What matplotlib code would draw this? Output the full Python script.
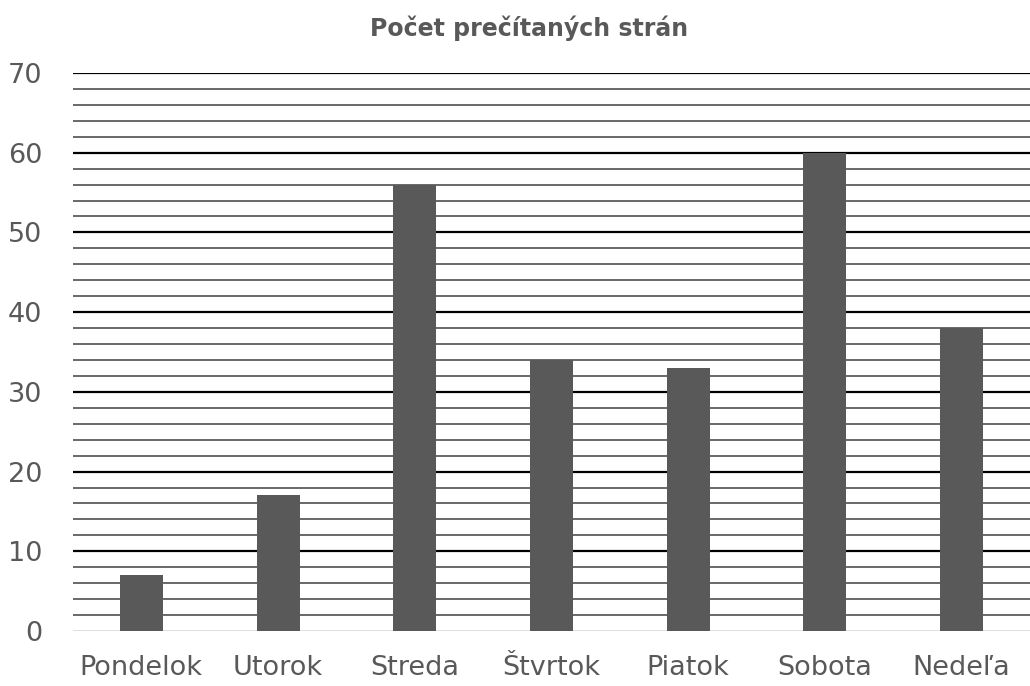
import matplotlib
matplotlib.use('Agg')
import matplotlib.pyplot as plt
import numpy as np

days = ['Pondelok', 'Utorok', 'Streda', 'Štvrtok', 'Piatok', 'Sobota', 'Nedeľa']
pages = [7, 17, 56, 34, 33, 60, 38]
y_ticks = [0, 10, 20, 30, 40, 50, 60, 70]

text_color = '#595959'
bar_color = '#595959'

fig = plt.figure(figsize=(10.30, 6.86), dpi=100)
ax = fig.add_axes([73 / 1030, 1 - 631 / 686, 957 / 1030, 558 / 686])

x = np.arange(len(days))
ax.set_xlim(-0.5, len(days) - 0.5)
ax.set_ylim(0, 70)

# gridlines: minor every 2, major every 10
for v in range(2, 71, 2):
    if v % 10 == 0:
        ax.axhline(v, color='black', lw=1.6, zorder=1)
    else:
        ax.axhline(v, color='#404040', lw=1.1, zorder=1)
ax.axhline(0, color='#d9d9d9', lw=1.2, zorder=1)

ax.bar(x, pages, width=0.315, color=bar_color, zorder=2)

ax.set_xticks(x)
ax.set_xticklabels(days)
ax.set_yticks(y_ticks)
ax.tick_params(axis='both', length=0, colors=text_color)
ax.tick_params(axis='x', pad=17, labelsize=19.5)
ax.tick_params(axis='y', pad=22, labelsize=19.5)
for s in ax.spines.values():
    s.set_visible(False)

fig.text(529 / 1030, 1 - 28 / 686, 'Počet prečítaných strán', ha='center', va='center',
         fontsize=17, fontweight='bold', color=text_color)

fig.savefig('out.png', dpi=100)
